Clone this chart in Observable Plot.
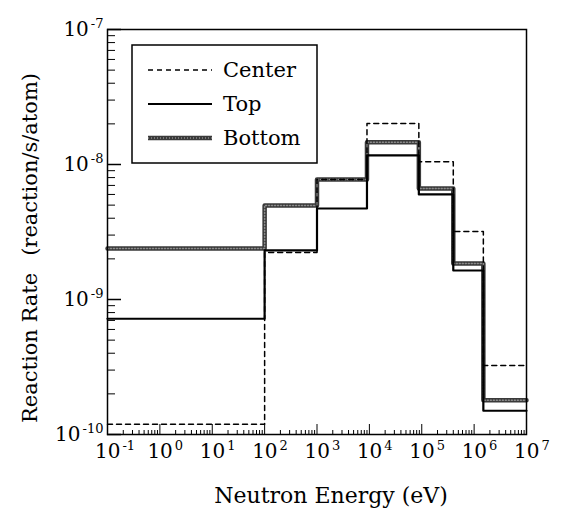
<!DOCTYPE html>
<html><head><meta charset="utf-8">
<script src="https://cdn.jsdelivr.net/npm/d3@7"></script>
<script src="https://cdn.jsdelivr.net/npm/@observablehq/plot@0.6"></script>
<style>
body{margin:0;background:#fff;}
#chart{width:565px;height:515px;}
svg{font-family:"DejaVu Serif",serif;}
</style></head><body><div id="chart"></div>
<script>
// Energy group edges (eV) and reaction rates per group
const edges = [0.1, 100, 1000, 9000, 88000, 4.0e5, 1.5e6, 1e7];
const centerRate = [1.19e-10, 2.23e-9, 7.74e-9, 2.01e-8, 1.05e-8, 3.19e-9, 3.24e-10];
const topRate = [7.2e-10, 2.31e-9, 4.72e-9, 1.17e-8, 6.0e-9, 1.64e-9, 1.5e-10];
const bottomRate = [2.39e-9, 4.97e-9, 7.74e-9, 1.46e-8, 6.64e-9, 1.85e-9, 1.79e-10];
const seriesNames = ["Center", "Top", "Bottom"];
const xTickExps = [-1, 0, 1, 2, 3, 4, 5, 6, 7];
const yTickExps = [-7, -8, -9, -10];
const xTitle = "Neutron Energy (eV)";
const yTitleA = "Reaction Rate";
const yTitleB = "(reaction/s/atom)";

function steps(vals) {
  const pts = vals.map((v, i) => ({x: edges[i], y: v}));
  pts.push({x: edges[edges.length - 1], y: vals[vals.length - 1]});
  return pts;
}
const decades = (lo, hi) => d3.range(lo, hi + 1);
const xMajor = xTickExps.map(e => 10 ** e);
const xMinor = decades(-1, 6).flatMap(e => d3.range(2, 10).map(m => m * 10 ** e));
const yMajor = yTickExps.map(e => 10 ** e);
const yMinor = decades(-10, -8).flatMap(e => d3.range(2, 10).map(m => m * 10 ** e));

const W = 565, H = 515, mL = 107, mR = 39, mT = 29, mB = 81;
const pw = W - mL - mR, ph = H - mT - mB;

const svg = Plot.plot({
  width: W, height: H,
  marginLeft: mL, marginRight: mR, marginTop: mT, marginBottom: mB,
  x: {type: "log", domain: [0.1, 1e7], axis: null},
  y: {type: "log", domain: [1e-10, 1e-7], axis: null},
  marks: [
    Plot.tickY(yMajor, {y: d => d, stroke: "black", strokeWidth: 1.5, insetRight: pw - 14}),
    Plot.tickY(yMinor, {y: d => d, stroke: "black", strokeWidth: 1, insetRight: pw - 8}),
    Plot.tickX(xMajor, {x: d => d, stroke: "black", strokeWidth: 1, insetTop: ph - 10}),
    Plot.tickX(xMinor, {x: d => d, stroke: "black", strokeWidth: 1, insetTop: ph - 4}),
    Plot.line(steps(bottomRate), {x: "x", y: "y", curve: "step-after", stroke: "#3a3a3a", strokeWidth: 4.5}),
    Plot.line(steps(bottomRate), {x: "x", y: "y", curve: "step-after", stroke: "#8a8a8a", strokeWidth: 1.5, strokeDasharray: "1,2"}),
    Plot.line(steps(topRate), {x: "x", y: "y", curve: "step-after", stroke: "black", strokeWidth: 2.2}),
    Plot.line(steps(centerRate), {x: "x", y: "y", curve: "step-after", stroke: "black", strokeWidth: 1.5, strokeDasharray: "5,4"}),
    Plot.frame({stroke: "black", strokeWidth: 1.5}),
    Plot.text(xTickExps, {x: e => 10 ** e, text: e => "10^" + e, frameAnchor: "bottom", dy: 23, dx: -12.5, textAnchor: "start", fontSize: 20, fill: "black"}),
    Plot.text(yTickExps, {y: e => 10 ** e, text: e => "10^" + e, frameAnchor: "left", dx: -4, textAnchor: "end", fontSize: 20, fill: "black"})
  ]
});

const s = d3.select(svg);
s.selectAll("text").filter(function() { return this.textContent.includes("^"); }).each(function() {
  const [b, e] = this.textContent.split("^");
  const t = d3.select(this);
  t.text(b);
  t.append("tspan").attr("font-size", 13).attr("dx", 2).attr("dy", -8).text(e);
});

// axis titles
s.append("text").attr("x", 331).attr("y", 503).attr("text-anchor", "middle")
  .attr("font-size", 22).attr("fill", "black").text(xTitle);
const yt = s.append("text").attr("transform", "translate(37,248) rotate(-90)")
  .attr("text-anchor", "middle").attr("font-size", 21).attr("fill", "black");
yt.append("tspan").text(yTitleA);
yt.append("tspan").attr("dx", 17).text(yTitleB);

// legend
const lg = s.append("g");
lg.append("rect").attr("x", 132).attr("y", 45).attr("width", 185).attr("height", 118)
  .attr("fill", "white").attr("stroke", "black").attr("stroke-width", 1.5);
const rowsY = [70, 104, 138];
const styles = [
  [{stroke: "black", w: 1.5, dash: "5,4"}],
  [{stroke: "black", w: 2.2, dash: null}],
  [{stroke: "#3a3a3a", w: 4.5, dash: null}, {stroke: "#8a8a8a", w: 1.5, dash: "1,2"}]
];
seriesNames.forEach((name, i) => {
  styles[i].forEach(st => {
    const l = lg.append("line").attr("x1", 148).attr("x2", 212).attr("y1", rowsY[i]).attr("y2", rowsY[i])
      .attr("stroke", st.stroke).attr("stroke-width", st.w);
    if (st.dash) l.attr("stroke-dasharray", st.dash);
  });
  lg.append("text").attr("x", 223).attr("y", rowsY[i] + 7).attr("text-anchor", "start")
    .attr("font-size", 21).attr("fill", "black").text(name);
});

document.getElementById("chart").append(svg);
</script></body></html>
